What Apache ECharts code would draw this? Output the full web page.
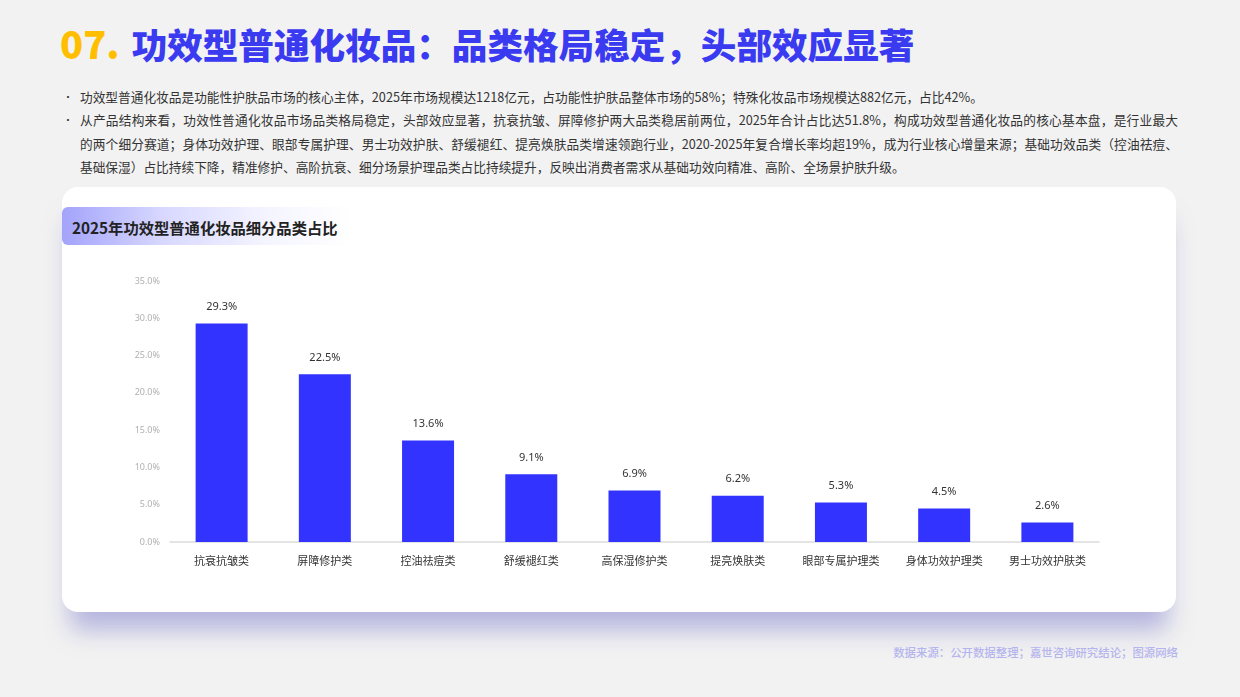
<!DOCTYPE html>
<html><head><meta charset="utf-8">
<script src="https://cdn.jsdelivr.net/npm/echarts@6/dist/echarts.min.js"></script>
<style>
html,body{margin:0;padding:0;width:1240px;height:697px;background:#f2f2f2;overflow:hidden;font-family:"Noto Sans CJK SC","Noto Sans",sans-serif;}
#title{position:absolute;left:60px;top:17px;font-size:35.6px;font-weight:900;color:#3a3af0;white-space:nowrap;line-height:52px;}
#title .num{color:#ffbf00;margin-right:12px;font-size:38px;}
.bl{position:absolute;left:80px;font-size:12.7px;color:#333;white-space:nowrap;line-height:16px;}
.dot{position:absolute;left:63px;font-size:10px;color:#333;line-height:16px;}
.just{width:1098px;text-align:justify;text-align-last:justify;}
#card{position:absolute;left:62px;top:187px;width:1114px;height:425px;background:#fff;border-radius:16px;box-shadow:0 26px 24px -8px rgba(140,140,210,0.6);}
#tab{position:absolute;left:62px;top:207px;width:290px;height:38px;border-radius:6px 0 0 6px;background:linear-gradient(90deg,#a3a3fb 0%,#d8d8ff 35%,#f4f4ff 70%,rgba(255,255,255,0) 100%);}
#tabtxt{position:absolute;left:72px;top:217px;font-size:15.3px;font-weight:700;color:#222;white-space:nowrap;line-height:20px;}
#chart{position:absolute;left:62px;top:187px;width:1114px;height:425px;}
#src{position:absolute;right:62px;top:644px;font-size:11.4px;font-weight:500;color:#b5b5ee;white-space:nowrap;line-height:16px;}
</style></head><body>
<div id="title"><span class="num">07.</span>功效型普通化妆品：品类格局稳定，头部效应显著</div>
<div class="dot" style="top:89px">•</div>
<div class="bl" style="top:89px">功效型普通化妆品是功能性护肤品市场的核心主体，2025年市场规模达1218亿元，占功能性护肤品整体市场的58%；特殊化妆品市场规模达882亿元，占比42%。</div>
<div class="dot" style="top:112px">•</div>
<div class="bl just" style="top:112px">从产品结构来看，功效性普通化妆品市场品类格局稳定，头部效应显著，抗衰抗皱、屏障修护两大品类稳居前两位，2025年合计占比达51.8%，构成功效型普通化妆品的核心基本盘，是行业最大</div>
<div class="bl just" style="top:136px">的两个细分赛道；身体功效护理、眼部专属护理、男士功效护肤、舒缓褪红、提亮焕肤品类增速领跑行业，2020-2025年复合增长率均超19%，成为行业核心增量来源；基础功效品类（控油祛痘、</div>
<div class="bl" style="top:159px">基础保湿）占比持续下降，精准修护、高阶抗衰、细分场景护理品类占比持续提升，反映出消费者需求从基础功效向精准、高阶、全场景护肤升级。</div>
<div id="card"></div>
<div id="tab"></div>
<div id="tabtxt">2025年功效型普通化妆品细分品类占比</div>
<div id="chart"></div>
<div id="src">数据来源：公开数据整理；嘉世咨询研究结论；图源网络</div>
<script>
const categories = ["抗衰抗皱类","屏障修护类","控油祛痘类","舒缓褪红类","高保湿修护类","提亮焕肤类","眼部专属护理类","身体功效护理类","男士功效护肤类"];
const shares = [29.3, 22.5, 13.6, 9.1, 6.9, 6.2, 5.3, 4.5, 2.6];
const chart = echarts.init(document.getElementById('chart'), null, {renderer:'canvas'});
chart.setOption({
  animation:false,
  backgroundColor:'transparent',
  grid:{left:108,right:77,top:94,bottom:70},
  xAxis:{type:'category',data:categories,
    axisLine:{lineStyle:{color:'#dcdcdc',width:1.5}},axisTick:{show:false},
    axisLabel:{color:'#333',fontSize:11,margin:13,fontFamily:'Noto Sans CJK SC'}},
  yAxis:{type:'value',min:0,max:35,interval:5,
    axisLine:{show:false},axisTick:{show:false},splitLine:{show:false},
    axisLabel:{color:'#b0b0b0',fontSize:9,margin:10,formatter:v=>v.toFixed(1)+'%',fontFamily:'Noto Sans'}},
  series:[{type:'bar',data:shares,barWidth:52,
    itemStyle:{color:'#3333ff'},
    label:{show:true,position:'top',distance:11,color:'#333',fontSize:11,formatter:p=>p.value.toFixed(1)+'%',fontFamily:'Noto Sans'}}]
});
</script>
</body></html>
